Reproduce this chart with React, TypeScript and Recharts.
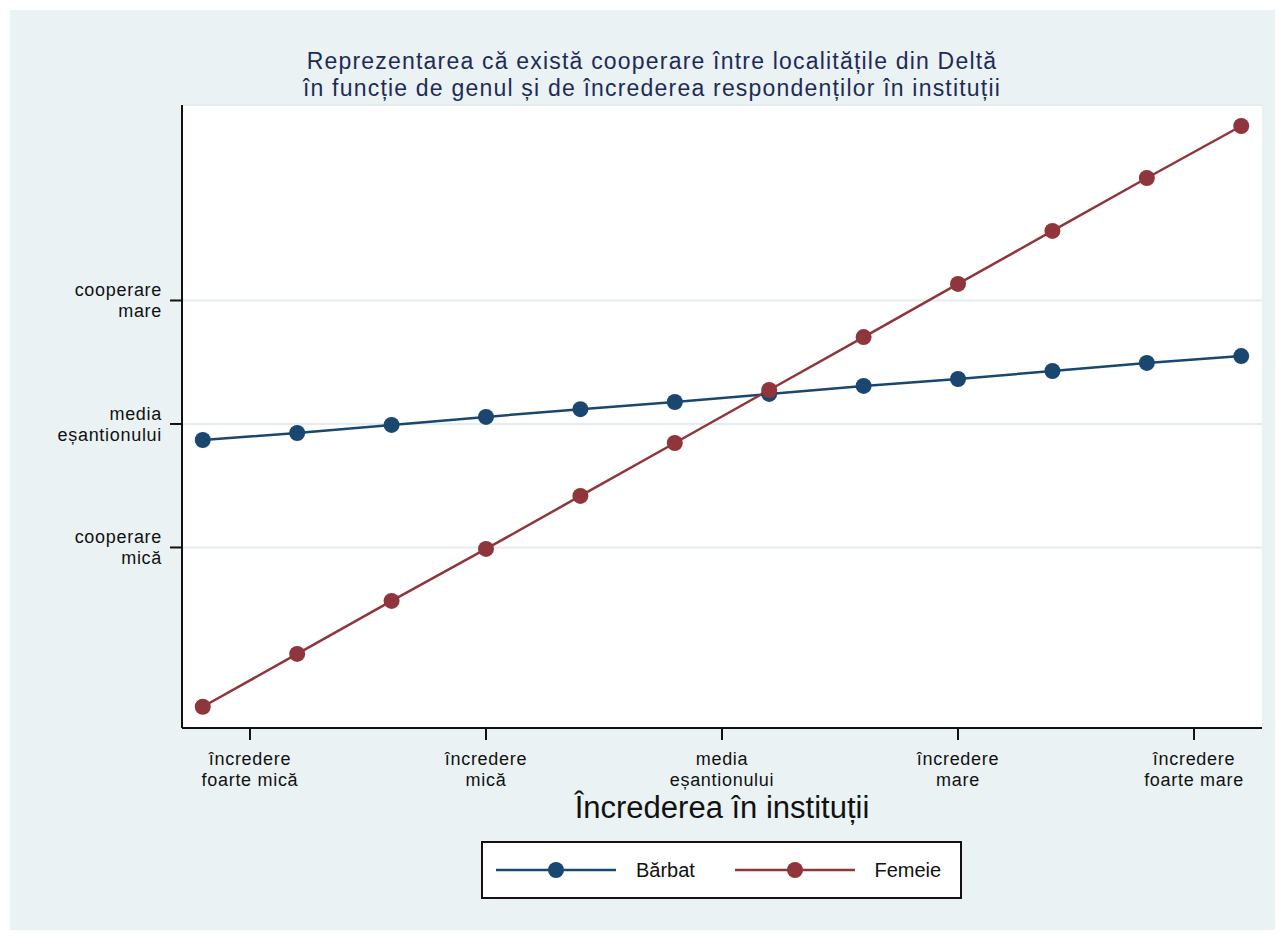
import { LineChart, Line, XAxis, YAxis, CartesianGrid } from "recharts"

// trust level (x, in sample SD units) at which predictions are drawn
const trustLevels = [-2.2, -1.8, -1.4, -1.0, -0.6, -0.2, 0.2, 0.6, 1.0, 1.4, 1.8, 2.2]
const barbat = [-0.13, -0.073, -0.008, 0.057, 0.12, 0.178, 0.243, 0.308, 0.364, 0.429, 0.494, 0.55]
const femeie = [-2.29, -1.862, -1.433, -1.012, -0.583, -0.154, 0.275, 0.704, 1.134, 1.563, 1.992, 2.413]

const xTicks = [-2, -1, 0, 1, 2]
const xTickLabels = [
  ["încredere", "foarte mică"],
  ["încredere", "mică"],
  ["media", "eșantionului"],
  ["încredere", "mare"],
  ["încredere", "foarte mare"],
]
const yTicks = [-1, 0, 1]
const yTickLabels = [
  ["cooperare", "mică"],
  ["media", "eșantionului"],
  ["cooperare", "mare"],
]

const BLUE = "#1a476f"
const RED = "#90353b"
const PANEL = "#eaf2f3"
const FONT = "'Liberation Sans', Arial, sans-serif"

const data = trustLevels.map((x, i) => ({ x, barbat: barbat[i], femeie: femeie[i] }))

function XTick(props: any) {
  const { x, y, payload } = props
  const lines = xTickLabels[xTicks.indexOf(payload.value)] || []
  return (
    <text x={x} y={y} textAnchor="middle" fontSize={18} letterSpacing={0.7} fill="#111" fontFamily={FONT}>
      <tspan x={x} dy={25}>{lines[0]}</tspan>
      <tspan x={x} dy={21}>{lines[1]}</tspan>
    </text>
  )
}

function YTick(props: any) {
  const { x, y, payload } = props
  const lines = yTickLabels[yTicks.indexOf(payload.value)] || []
  return (
    <text x={x} y={y} textAnchor="end" fontSize={18} letterSpacing={0.7} fill="#111" fontFamily={FONT}>
      <tspan x={x} dy={-4}>{lines[0]}</tspan>
      <tspan x={x} dy={21}>{lines[1]}</tspan>
    </text>
  )
}

function LegendBox() {
  const items = [
    { name: "Bărbat", color: BLUE },
    { name: "Femeie", color: RED },
  ]
  return (
    <div
      style={{
        position: "absolute",
        left: 481,
        top: 841,
        width: 477,
        height: 54,
        border: "2px solid #111",
        background: "#fff",
        display: "flex",
        alignItems: "center",
        fontFamily: FONT,
        fontSize: 20,
        color: "#111",
      }}
    >
      {items.map((it) => (
        <div key={it.name} style={{ display: "flex", alignItems: "center", marginLeft: 12, width: 236 }}>
          <svg width={122} height={20}>
            <line x1={1} y1={10} x2={121} y2={10} stroke={it.color} strokeWidth={2.5} />
            <circle cx={61} cy={10} r={8} fill={it.color} />
          </svg>
          <span style={{ marginLeft: 19 }}>{it.name}</span>
        </div>
      ))}
    </div>
  )
}

export default function App() {
  return (
    <div style={{ position: "absolute", left: 0, top: 0, width: 1282, height: 937, background: "#fff" }}>
      <div style={{ position: "absolute", left: 10, top: 10, width: 1265, height: 920, background: PANEL }} />
      <div
        style={{
          position: "absolute",
          left: 0,
          top: 48,
          width: 1304,
          textAlign: "center",
          fontFamily: FONT,
          fontSize: 23,
          lineHeight: "27px",
          letterSpacing: 1.2,
          color: "#1e2b58",
        }}
      >
        Reprezentarea că există cooperare între localitățile din Deltă
        <br />
        în funcție de genul și de încrederea respondenților în instituții
      </div>
      <div
        style={{
          position: "absolute",
          left: 0,
          top: 792,
          width: 1444,
          textAlign: "center",
          fontFamily: FONT,
          fontSize: 31,
          lineHeight: "31px",
          color: "#111",
        }}
      >
        Încrederea în instituții
      </div>
      <div style={{ position: "absolute", left: 0, top: 0 }}>
        <LineChart
          width={1282}
          height={937}
          data={data}
          margin={{ top: 105, right: 20, left: 62, bottom: 149 }}
        >
          <CartesianGrid vertical={false} stroke="#e4ecee" strokeWidth={2} fill="#fff" />
          <XAxis
            dataKey="x"
            type="number"
            domain={[-2.288, 2.288]}
            ticks={xTicks}
            tick={<XTick />}
            tickSize={12}
            tickMargin={0}
            height={60}
            stroke="#111"
            strokeWidth={2}
            interval={0}
          />
          <YAxis
            type="number"
            domain={[-2.462, 2.583]}
            ticks={yTicks}
            tick={<YTick />}
            tickSize={12}
            tickMargin={8}
            width={120}
            stroke="#111"
            strokeWidth={2}
            interval={0}
          />
          <Line
            dataKey="barbat"
            name="Bărbat"
            stroke={BLUE}
            strokeWidth={2.5}
            dot={{ r: 8, fill: BLUE, stroke: "none" }}
            activeDot={false}
            isAnimationActive={false}
          />
          <Line
            dataKey="femeie"
            name="Femeie"
            stroke={RED}
            strokeWidth={2.5}
            dot={{ r: 8, fill: RED, stroke: "none" }}
            activeDot={false}
            isAnimationActive={false}
          />
        </LineChart>
      </div>
      <LegendBox />
    </div>
  )
}
